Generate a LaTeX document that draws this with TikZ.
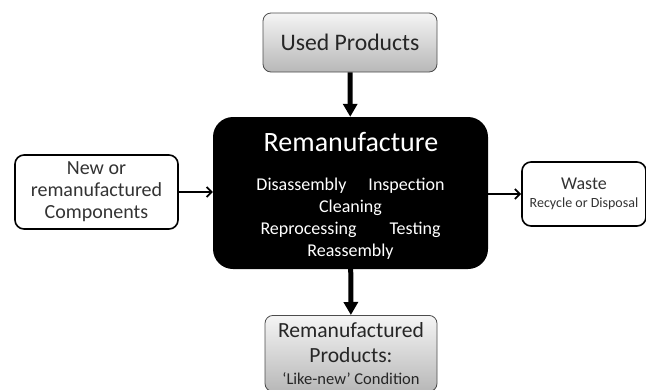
\documentclass[tikz,border=0pt]{standalone}
\usepackage{fontspec}
\setmainfont{Carlito}
\usetikzlibrary{positioning, arrows.meta}

\begin{document}
\begin{tikzpicture}[
        x=1pt, y=-1pt,
        % Styles
        product/.style={rectangle, rounded corners=8pt, draw=black!70, thick, top color=black!4, bottom color=black!28, align=center, text=black!85},
        side/.style   ={rectangle, rounded corners=9pt, draw=black, line width=1.6pt, fill=white, align=center, text=black!80},
        core/.style   ={rectangle, rounded corners=20pt, fill=black, minimum width=275pt, minimum height=152pt},
        coretext/.style={text=white, align=center},
        flow/.style   ={-{Triangle[length=13pt, width=14pt]}, line width=5pt},
        feed/.style   ={-{Straight Barb[length=5pt, width=10pt]}, line width=1.8pt}
    ]

    % Frame of the page, the lower and right boxes run past it
    \clip (0,0) rectangle (646,389);

    % --- REMANUFACTURE (Centre) ---
    \node[core] (Reman) at (350.5,193) {};
    \node[coretext, anchor=base, font=\fontsize{28}{32}\selectfont] (RemanTitle) at (351,151) {Remanufacture};
    \node[coretext, font=\fontsize{18}{22}\selectfont] (RemanSteps) at (350.5,219)
        {Disassembly\hspace{22pt}Inspection\\Cleaning\\Reprocessing\hspace{33pt}Testing\\Reassembly};

    % Used Products
    \node[product, minimum width=174pt, minimum height=59pt, font=\fontsize{23.7}{28}\selectfont] (Used) at (350,42.5) {Used Products};
    \draw[flow] (Used) -- (Reman);

    % Remanufactured Products
    \node[product, anchor=north, minimum width=172pt, inner ysep=7pt, font=\fontsize{21.6}{25}\selectfont] (RemanProd) at (351,315)
        {Remanufactured\\Products:\\[-3pt]{\fontsize{16.5}{18}\selectfont `Like-new' Condition}};
    \draw[flow] (Reman) -- (RemanProd);

    % --- SIDE INPUT AND OUTPUT ---

    % New components
    \node[side, minimum width=163pt, minimum height=74pt, font=\fontsize{20}{22}\selectfont] (NewComp) at (96.5,192)
        {New or\\remanufactured\\Components};
    \draw[feed] (NewComp) -- (NewComp -| Reman.west);

    % Waste
    \node[side, minimum width=124pt, minimum height=64pt, font=\fontsize{18}{20}\selectfont] (Waste) at (584,194)
        {Waste\\[-2pt]{\fontsize{14}{15}\selectfont Recycle or Disposal}};
    \draw[feed] (Reman.east |- Waste) -- (Waste);

\end{tikzpicture}
\end{document}
